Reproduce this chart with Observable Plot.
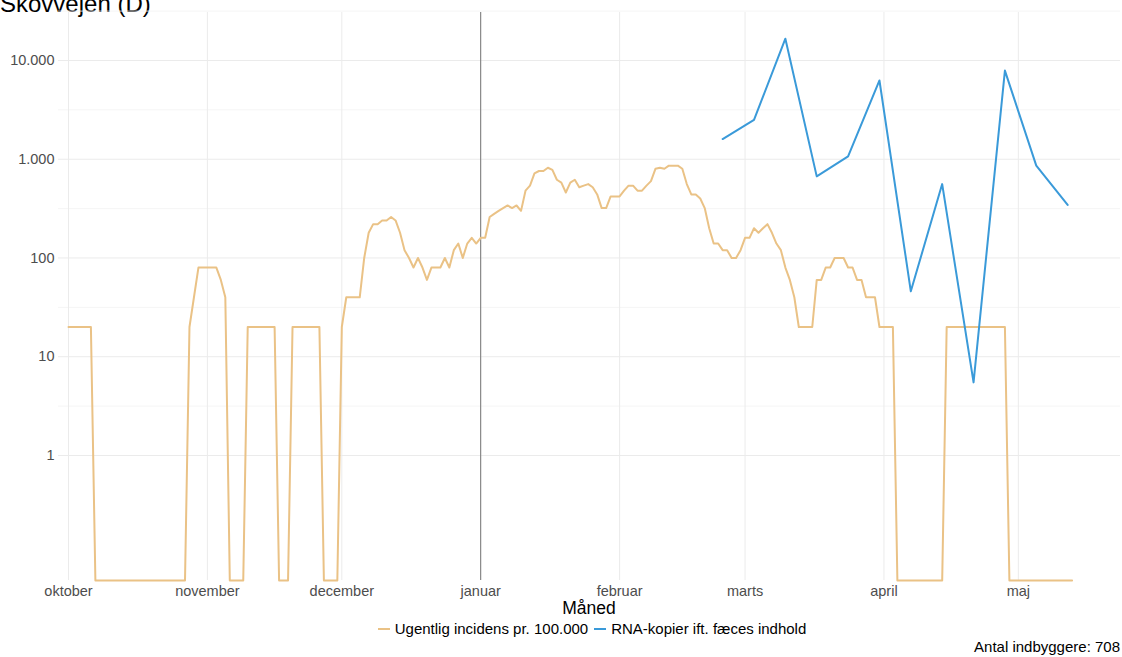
<!DOCTYPE html>
<html>
<head>
<meta charset="utf-8">
<script src="https://cdn.jsdelivr.net/npm/d3@7"></script>
<script src="https://cdn.jsdelivr.net/npm/@observablehq/plot@0.6"></script>
<style>
  body { margin: 0; background: #fff; font-family: "Liberation Sans", Arial, sans-serif; }
  #wrap { position: relative; width: 1122px; height: 657px; overflow: hidden; }
  #title { position: absolute; left: 0; top: -8px; font-size: 24px; line-height: 24px; color: #000; white-space: nowrap; }
  #chart { position: absolute; left: 0; top: 0; }
  #xlabel { position: absolute; left: 489px; width: 200px; top: 598px; text-align: center; font-size: 17.5px; line-height: 20px; color: #000; }
  #legend { position: absolute; left: 0; width: 1184px; top: 620px; text-align: center; font-size: 15px; line-height: 18px; color: #000; white-space: nowrap; }
  #legend .key { display: inline-block; width: 12px; height: 2px; vertical-align: middle; margin-right: 5px; position: relative; top: -1px; }
  #legend .item { margin: 0 3px; }
  #caption { position: absolute; right: 2px; top: 638px; font-size: 15px; line-height: 18px; color: #000; }
</style>
</head>
<body>
<div id="wrap">
  <div id="title">Skovvejen (D)</div>
  <div id="chart"></div>
  <div id="xlabel">Måned</div>
  <div id="legend"></div>
  <div id="caption">Antal indbyggere: 708</div>
</div>
<script>
// ---- Data ----
const incDates = [
  "2020-10-01","2020-10-06","2020-10-07","2020-10-27","2020-10-28","2020-10-29","2020-10-30",
  "2020-11-03","2020-11-04","2020-11-05","2020-11-06","2020-11-09","2020-11-10","2020-11-16",
  "2020-11-17","2020-11-19","2020-11-20","2020-11-26","2020-11-27","2020-11-30",
  "2020-12-01","2020-12-02","2020-12-05","2020-12-06","2020-12-07","2020-12-08","2020-12-09",
  "2020-12-10","2020-12-11","2020-12-12","2020-12-13","2020-12-14","2020-12-15","2020-12-16",
  "2020-12-17","2020-12-18","2020-12-19","2020-12-20","2020-12-21","2020-12-22","2020-12-23",
  "2020-12-24","2020-12-25","2020-12-26","2020-12-27","2020-12-28","2020-12-29","2020-12-30",
  "2020-12-31","2021-01-01","2021-01-02","2021-01-03","2021-01-04","2021-01-05","2021-01-06",
  "2021-01-07","2021-01-08","2021-01-09","2021-01-10","2021-01-11","2021-01-12","2021-01-13",
  "2021-01-14","2021-01-15","2021-01-16","2021-01-17","2021-01-18","2021-01-19","2021-01-20",
  "2021-01-21","2021-01-22","2021-01-23","2021-01-24","2021-01-25","2021-01-26","2021-01-27",
  "2021-01-28","2021-01-29","2021-01-30","2021-01-31","2021-02-01","2021-02-02","2021-02-03",
  "2021-02-04","2021-02-05","2021-02-06","2021-02-07","2021-02-08","2021-02-09","2021-02-10",
  "2021-02-11","2021-02-12","2021-02-13","2021-02-14","2021-02-15","2021-02-16","2021-02-17",
  "2021-02-18","2021-02-19","2021-02-20","2021-02-21","2021-02-22","2021-02-23","2021-02-24",
  "2021-02-25","2021-02-26","2021-02-27","2021-02-28","2021-03-01","2021-03-02","2021-03-03",
  "2021-03-04","2021-03-05","2021-03-06","2021-03-07","2021-03-08","2021-03-09","2021-03-10",
  "2021-03-11","2021-03-12","2021-03-13","2021-03-16","2021-03-17","2021-03-18","2021-03-19",
  "2021-03-20","2021-03-21","2021-03-23","2021-03-24","2021-03-25","2021-03-26","2021-03-27",
  "2021-03-28","2021-03-30","2021-03-31","2021-04-03","2021-04-04","2021-04-14","2021-04-15",
  "2021-04-28","2021-04-29","2021-05-13"
];
const incValues = [
  20,20,0,0,20,40,80,
  80,60,40,0,0,20,20,
  0,0,20,20,0,0,
  20,40,40,100,180,220,220,
  240,240,260,240,180,120,100,
  80,100,80,60,80,80,80,
  100,80,120,140,100,140,160,
  140,160,160,260,280,300,320,
  340,320,340,300,480,540,720,
  760,760,820,780,620,580,460,
  580,620,520,540,560,520,440,
  320,320,420,420,420,480,540,
  540,480,480,540,600,800,820,
  800,860,860,860,800,560,440,
  440,400,320,200,140,140,120,
  120,100,100,120,160,160,200,
  180,200,220,180,140,120,80,
  60,40,20,20,60,60,80,
  80,100,100,80,80,60,60,
  40,40,20,20,0,0,20,
  20,0,0
];
const rnaDates = ["2021-02-24","2021-03-03","2021-03-10","2021-03-17","2021-03-24","2021-03-31",
                  "2021-04-07","2021-04-14","2021-04-21","2021-04-28","2021-05-05","2021-05-12"];
const rnaValues = [1600, 2500, 16600, 670, 1070, 6270, 46, 560, 5.5, 7900, 860, 345];

const seriesNames = ["Ugentlig incidens pr. 100.000", "RNA-kopier ift. fæces indhold"];
const seriesColors = ["#EAC286", "#3A9AD9"];

const monthTicks = ["2020-10-01","2020-11-01","2020-12-01","2021-01-01","2021-02-01","2021-03-01","2021-04-01","2021-05-01"];
const monthLabels = ["oktober","november","december","januar","februar","marts","april","maj"];
const yTicks = [1, 10, 100, 1000, 10000];
const vlineDate = "2021-01-01";

// ---- Build ----
const yDomain = [0.0542, 30600];
const xDomain = [new Date("2020-09-28T18:25Z"), new Date("2021-05-23T19:10Z")];
const floorV = yDomain[0];

const inc = incDates.map((d, i) => ({date: new Date(d), value: incValues[i]}));
const rna = rnaDates.map((d, i) => ({date: new Date(d), value: rnaValues[i]}));
const ticksX = monthTicks.map(d => new Date(d));
const labelOf = new Map(ticksX.map((d, i) => [+d, monthLabels[i]]));
const minorY = yTicks.map(v => v * Math.sqrt(10));
const fmt = v => d3.format(",")(v).replace(/,/g, ".");

const chart = Plot.plot({
  width: 1122,
  height: 600,
  marginTop: 12,
  marginBottom: 20,
  marginLeft: 58,
  marginRight: 2,
  style: {fontFamily: '"Liberation Sans", Arial, sans-serif', background: "transparent"},
  x: {type: "utc", domain: xDomain, axis: null},
  y: {type: "log", domain: yDomain, axis: null},
  marks: [
    Plot.ruleY(minorY, {stroke: "#f3f3f3", strokeWidth: 0.8}),
    Plot.ruleY(yTicks, {stroke: "#ebebeb", strokeWidth: 1}),
    Plot.ruleX(ticksX, {stroke: "#ebebeb", strokeWidth: 1}),
    Plot.ruleX([new Date(vlineDate)], {stroke: "#555", strokeWidth: 0.8}),
    Plot.line(inc, {x: "date", y: d => d.value > 0 ? d.value : floorV, stroke: seriesColors[0], strokeWidth: 2, curve: "linear"}),
    Plot.line(rna, {x: "date", y: "value", stroke: seriesColors[1], strokeWidth: 2, curve: "linear"}),
    Plot.axisY(yTicks, {tickSize: 0, tickPadding: 4, tickFormat: fmt, fontSize: 14.5, fill: "#4d4d4d", label: null}),
    Plot.axisX(ticksX, {tickSize: 0, tickPadding: 5, tickFormat: d => labelOf.get(+d), fontSize: 14.5, fill: "#4d4d4d", label: null})
  ]
});
document.getElementById("chart").appendChild(chart);

// Legend
const legend = document.getElementById("legend");
seriesNames.forEach((name, i) => {
  const item = document.createElement("span");
  item.className = "item";
  const key = document.createElement("span");
  key.className = "key";
  key.style.background = seriesColors[i];
  item.appendChild(key);
  item.appendChild(document.createTextNode(name));
  legend.appendChild(item);
});
</script>
</body>
</html>
